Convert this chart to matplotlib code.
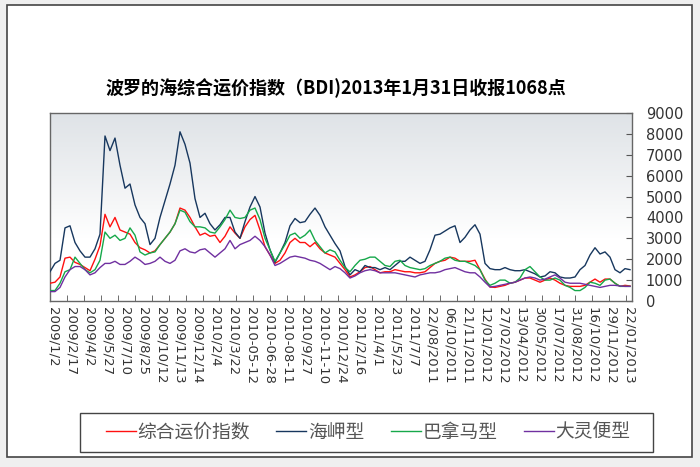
import numpy as np
import matplotlib
matplotlib.use("Agg")
import matplotlib.pyplot as plt
from matplotlib.patches import Rectangle

# 数据 (每5像素取一个点, 2009/1/2 - 2013/1/31)
bdi = [850, 900, 1150, 2050, 2100, 1850, 1750, 1600, 1450, 2000,
       2650, 4150, 3550, 4000, 3400, 3300, 3200, 2800, 2550, 2450,
       2300, 2400, 2700, 3000, 3300, 3700, 4450, 4350, 4000, 3550,
       3150, 3250, 3100, 3150, 2800, 3100, 3550, 3250, 3000, 3550,
       3900, 4100, 3400, 2600, 2200, 1800, 1950, 2300, 2800, 3000,
       2800, 2800, 2600, 2800, 2500, 2300, 2200, 2100, 1800, 1500,
       1150, 1250, 1400, 1600, 1650, 1500, 1350, 1400, 1400, 1500,
       1450, 1400, 1400, 1350, 1350, 1400, 1600, 1800, 1900, 1950,
       2100, 2050, 1900, 1900, 1900, 1950, 1500, 1050, 670, 650,
       700, 750, 850, 900, 1000, 1100, 1100, 1000, 900, 1000,
       1100, 1000, 850, 750, 700, 700, 700, 750, 900, 1050,
       900, 1050, 1050, 850, 700, 750, 720]

capesize = [1400, 1800, 1950, 3500, 3600, 2800, 2400, 2100, 2100, 2500,
            3200, 7900, 7200, 7800, 6500, 5400, 5600, 4600, 4000, 3700,
            2700, 3000, 4000, 4800, 5600, 6500, 8100, 7500, 6600, 4900,
            4000, 4200, 3700, 3400, 3650, 4000, 4000, 3300, 3000, 3800,
            4500, 5000, 4500, 3250, 2450, 1850, 2300, 2800, 3600, 3950,
            3750, 3800, 4150, 4450, 4100, 3550, 3150, 2750, 2400, 1650,
            1250, 1500, 1400, 1700, 1600, 1600, 1500, 1600, 1500, 1700,
            1900, 1900, 2100, 1950, 1800, 1900, 2450, 3150, 3200, 3350,
            3500, 3600, 2800, 3050, 3400, 3650, 3200, 1800, 1550, 1500,
            1500, 1600, 1500, 1450, 1450, 1500, 1400, 1300, 1150, 1200,
            1400, 1350, 1150, 1100, 1100, 1150, 1500, 1700, 2200, 2550,
            2250, 2350, 2100, 1500, 1350, 1550, 1500]

panamax = [500, 500, 850, 1400, 1500, 2100, 1800, 1500, 1350, 1500,
           1950, 3300, 3000, 3150, 2900, 3000, 3500, 3150, 2350, 2200,
           2300, 2350, 2700, 3000, 3300, 3700, 4350, 4250, 3800, 3550,
           3550, 3500, 3300, 3250, 3550, 3900, 4350, 4000, 3950, 4000,
           4350, 4450, 3900, 3000, 2450, 1900, 2300, 2700, 3150, 3250,
           3000, 3150, 3400, 2900, 2600, 2300, 2450, 2350, 1950, 1600,
           1400, 1700, 1950, 2000, 2100, 2100, 1900, 1700, 1650, 1900,
           1950, 1700, 1600, 1550, 1500, 1550, 1700, 1800, 1900, 2050,
           2100, 1950, 1900, 1900, 1800, 1700, 1500, 1000, 750, 850,
           1000, 1000, 850, 900, 1100, 1500, 1650, 1400, 1150, 1000,
           1000, 1100, 1000, 750, 650, 500, 500, 650, 900, 850,
           750, 1000, 1050, 850, 700, 700, 700]

supramax = [450, 450, 650, 1150, 1500, 1650, 1650, 1500, 1250, 1350,
            1600, 1800, 1800, 1900, 1750, 1750, 1900, 2100, 1950, 1750,
            1800, 1900, 2100, 1900, 1800, 1950, 2400, 2500, 2350, 2300,
            2450, 2500, 2300, 2100, 2300, 2500, 2900, 2500, 2700, 2800,
            2900, 3100, 2900, 2600, 2200, 1700, 1800, 1950, 2100, 2150,
            2100, 2050, 1950, 1900, 1800, 1650, 1500, 1650, 1550, 1350,
            1100, 1200, 1350, 1450, 1500, 1450, 1350, 1350, 1350, 1350,
            1300, 1250, 1200, 1150, 1250, 1300, 1350, 1350, 1400, 1500,
            1550, 1600, 1500, 1400, 1350, 1350, 1150, 900, 670, 700,
            750, 800, 850, 900, 1000, 1100, 1150, 1100, 1000, 1050,
            1150, 1250, 1100, 900, 850, 850, 850, 800, 750, 700,
            650, 700, 750, 750, 720, 700, 700]

date_labels = ['2009/1/2', '2009/2/17', '2009/4/2', '2009/5/27', '2009/7/10',
               '2009/8/25', '2009/10/12', '2009/11/13', '2009/12/14', '2010/2/4',
               '2010/3/22', '2010-05-12', '2010-06-28', '2010-08-11', '2010/9/27',
               '2010-11-10', '2010/12/24', '2011/2/16', '2011/4/1', '2011/5/23',
               '2011/7/7', '22/08/2011', '06/10/2011', '21/11/2011', '12/01/2012',
               '27/02/2012', '13/04/2012', '30/05/2012', '17/07/2012', '31/08/2012',
               '16/10/2012', '29/11/2012', '22/01/2013']

series_names = ['综合运价指数', '海岬型', '巴拿马型', '大灵便型']
series_colors = ['#ff1010', '#17375e', '#16a84a', '#7030a0']

cjk = ['Noto Sans CJK SC', 'DejaVu Sans']

fig = plt.figure(figsize=(7, 4.67), dpi=100, facecolor='#efefef')
fig.patches.append(Rectangle((7 / 700, 1 - 457 / 467), 685 / 700, 452 / 467,
                             transform=fig.transFigure, facecolor='white',
                             edgecolor='#444444', lw=1.2, zorder=-10))
# 图例外框
fig.patches.append(Rectangle((80 / 700, 1 - 452 / 467), 573 / 700, 39 / 467,
                             transform=fig.transFigure, facecolor='none',
                             edgecolor='#444444', lw=1.0, zorder=-5))

ax = fig.add_axes([50 / 700, 1 - 301 / 467, 582 / 700, 188 / 467])

# 渐变背景
grad = np.linspace(0, 1, 256).reshape(-1, 1)
ax.imshow(grad, extent=[0, 1, 0, 1], transform=ax.transAxes, aspect='auto',
          cmap=matplotlib.colors.LinearSegmentedColormap.from_list(
              'bg', ['#ffffff', '#ffffff', '#eef0f2', '#dfe3e7']),
          origin='lower', zorder=0)

n = len(bdi)
x = np.arange(n)
for vals, name, c in zip([bdi, capesize, panamax, supramax], series_names, series_colors):
    ax.plot(x, vals, color=c, lw=1.0, label=name, zorder=3)

ax.set_xlim(0, n - 1 + 0.4)
ax.set_ylim(0, 9000)

# y轴在右侧
ax.yaxis.tick_right()
ax.set_yticks(range(0, 9001, 1000))
ax.tick_params(axis='y', direction='in', length=4, labelsize=10.5,
               labelcolor='#333333', color='#555555', pad=10)

# x 轴刻度
label_pos = np.linspace(0.6, n - 1 - 0.2, len(date_labels))
ax.set_xticks(label_pos)
ax.set_xticklabels(date_labels, rotation=-90, ha='center', va='top')
ax.tick_params(axis='x', length=0, labelsize=9.5, labelcolor='#333333', pad=4)
ax.set_xticks(np.arange(0, n, 3.39), minor=True)
ax.tick_params(axis='x', which='minor', direction='in', length=4, color='#555555')

for s in ax.spines.values():
    s.set_color('#666666')
    s.set_linewidth(1.0)

fig.text(336 / 700, 1 - 88 / 467, '波罗的海综合运价指数（BDI)2013年1月31日收报1068点',
         ha='center', va='center', fontsize=13, fontweight='bold', family=cjk)

leg = fig.legend(loc='center', bbox_to_anchor=(368 / 700, 1 - 432 / 467), ncol=4,
                 frameon=False, prop={'family': cjk, 'size': 13.5},
                 handlelength=1.6, handletextpad=0.1, columnspacing=1.4,
                 borderpad=0.2)
for t in leg.get_texts():
    t.set_color('#555555')

fig.savefig('out.png', dpi=100, facecolor=fig.get_facecolor())
